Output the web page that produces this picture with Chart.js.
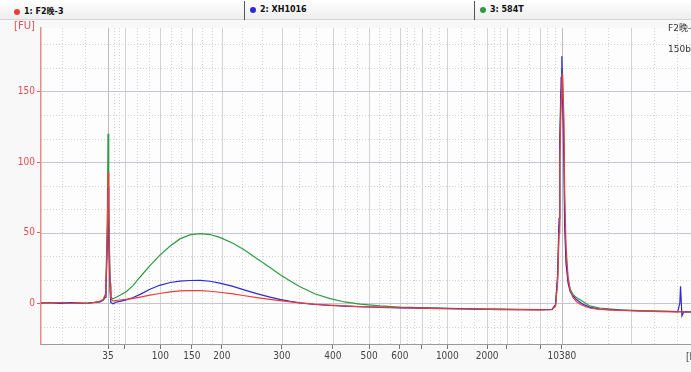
<!DOCTYPE html>
<html>
<head>
<meta charset="utf-8">
<script src="https://cdn.jsdelivr.net/npm/chart.js@4.4.1/dist/chart.umd.min.js"></script>
<style>
  html, body { margin: 0; padding: 0; }
  body {
    width: 691px; height: 372px; position: relative; overflow: hidden;
    background: #f8f8f8;
    font-family: "DejaVu Sans", "Noto Sans CJK SC", sans-serif;
  }
  #header {
    position: absolute; left: 0; top: 0; width: 691px; height: 19px;
    background: linear-gradient(#ffffff, #eeeeee);
    border-bottom: 1px solid #d4d4d4;
  }
  .entry { position: absolute; top: 5px; font-size: 8px; color: #111; white-space: nowrap; font-weight: bold; }
  .dot { display: inline-block; width: 6px; height: 6px; border-radius: 50%; margin-right: 4px; vertical-align: -1px; }
  .sep { position: absolute; top: 1px; width: 1px; height: 19px; background: #555; }
  #wrap { position: absolute; left: 0; top: 20px; width: 691px; height: 352px; }
  #fu { position: absolute; left: 14px; top: 20px; color: #e05050; font-size: 10px; }
  #note { position: absolute; left: 668px; top: 18px; font-size: 9px; color: #333; line-height: 21px; white-space: nowrap; }
</style>
</head>
<body>
<div id="header"></div>
<div id="wrap"><canvas id="chart" width="691" height="352"></canvas></div>
<div id="fu">[FU]</div>
<div id="note">F2晚-<br>150b</div>
<script>
// SAMPLES
const sampleNames = ["1: F2晚-3", "2: XH1016", "3: 584T"];
const sampleColors = ["#ee3d36", "#2a2ad8", "#2f9a45"];

// MIGRATION TIME [s]
const migrationTime = [
  33.4, 34.7, 36.1, 37.6, 39.0, 40.1, 41.1, 41.9, 42.3, 42.6,
  42.7, 42.9, 43.0, 43.1, 43.3, 43.4, 43.7, 44.1, 44.7, 45.6,
  46.6, 47.6, 49.0, 50.4, 51.9, 53.3, 54.7, 56.2, 57.6, 59.0,
  60.9, 62.6, 64.3, 66.2, 67.6, 69.1, 70.5, 72.6, 74.8, 76.9,
  79.1, 82.0, 84.8, 87.7, 90.5, 93.4, 96.3, 99.1, 102.0, 104.9,
  106.6, 107.1, 107.4, 107.6, 107.7, 107.9, 108.0, 108.1, 108.3, 108.4,
  108.6, 108.9, 109.2, 109.6, 110.1, 110.9, 112.0, 113.4, 116.3, 119.2,
  122.0, 124.6, 124.9, 125.0, 125.2, 125.5, 126.5
];

// FLUORESCENCE [FU]
const fuSample1 = [
  0.3, 0.1, 0.4, -0.1, 0.2, -0.3, 0.5, 1.2, 2.5, 5,
  12, 48, 93, 60, 12, 3, 1.5, 1.8, 2.2, 2.6,
  3.3, 4.2, 5.6, 6.8, 7.9, 8.6, 8.9, 8.8, 8.4, 7.7,
  6.5, 5.2, 3.9, 2.6, 1.7, 0.8, 0.1, -0.8, -1.5, -2.0,
  -2.5, -2.9, -3.3, -3.6, -3.9, -4.2, -4.3, -4.6, -4.7, -4.8,
  -4.6, -2, 15, 50, 100, 145, 158, 163, 130, 80,
  40, 18, 9, 4, 1, -1.5, -3.5, -4.5, -5.2, -5.5,
  -6.0, -6.2, -6.1, -6.2, -6.3, -6.2, -6.3
];
const fuSample2 = [
  0.2, 0.4, -0.2, 0.3, 0.0, -0.1, 0.4, 0.9, 2.0, 4,
  10, 40, 82, 45, 8, 0.5, -0.5, 0.6, 1.2, 2.3,
  4.0, 6.2, 9.8, 12.6, 14.6, 15.6, 16.0, 16.1, 15.5, 14.2,
  11.8, 9.2, 6.7, 4.2, 2.6, 1.2, 0.1, -1.0, -1.7, -2.2,
  -2.6, -3.0, -3.4, -3.5, -3.8, -4.0, -4.4, -4.4, -4.6, -4.7,
  -4.5, -1, 20, 60, 115, 160, 175, 150, 100, 55,
  28, 14, 8, 5, 2.5, -0.5, -3, -4.3, -5.0, -5.6,
  -5.8, -6.0, 0, 12, -9, -6.0, -6.3
];
const fuSample3 = [
  0.0, 0.2, 0.1, 0.3, -0.2, 0.1, 0.6, 1.4, 2.6, 6,
  14, 60, 120, 70, 14, 4, 3, 4, 5.5, 8.0,
  12.5, 18.5, 26.5, 33.8, 40.5, 45.5, 48.3, 49.2, 48.6, 46.6,
  42.4, 37.4, 31.6, 25.2, 20.3, 15.6, 11.6, 6.6, 3.2, 0.8,
  -0.8, -2.0, -2.8, -3.2, -3.5, -3.9, -4.0, -4.2, -4.5, -4.6,
  -4.4, -1.5, 18, 55, 108, 150, 166, 160, 115, 65,
  33, 16, 10, 6, 4, 1.5, -2, -3.5, -4.8, -5.3,
  -5.7, -6.1, -6.0, -6.1, -6.2, -6.1, -6.2
];

// LADDER (bp -> migration time)
const ladderBp = [35, 50, 100, 150, 200, 300, 400, 500, 600, 700, 1000, 2000, 3000, 7000, 10380];
const ladderTime = [43.0, 45.4, 50.5, 55.0, 59.3, 67.9, 75.2, 80.4, 84.8, 87.9, 91.6, 97.3, 100.1, 104.9, 108.0];
const labelledBp = [35, 100, 150, 200, 300, 400, 500, 600, 1000, 2000, 10380];

// Y AXIS
const fuTicks = [0, 50, 100, 150];
const fuMin = -29, fuMax = 195;
const timeMin = 33.4, timeMax = 126.5;

// HEADER ENTRIES
const header = document.getElementById("header");
const entryLeft = [14, 250, 480];
sampleNames.forEach((name, i) => {
  const d = document.createElement("div");
  d.className = "entry";
  d.style.left = entryLeft[i] + "px";
  d.innerHTML = `<span class="dot" style="background:${sampleColors[i]}"></span>${name}`;
  header.appendChild(d);
  if (i > 0) {
    const s = document.createElement("div");
    s.className = "sep";
    s.style.left = (entryLeft[i] - 6) + "px";
    header.appendChild(s);
  }
});

// GRID + BACKGROUND (behind everything)
const plotGrid = {
  id: "plotGrid",
  beforeDraw(chart) {
    const { ctx, chartArea: a, scales: { x, y } } = chart;
    ctx.save();
    ctx.fillStyle = "#fdfdfd";
    ctx.fillRect(a.left, a.top, a.right - a.left, a.bottom - a.top);

    const vline = (t, dotted, color) => {
      const px = Math.round(x.getPixelForValue(t)) + 0.5;
      if (px < a.left || px > a.right) return;
      ctx.strokeStyle = color;
      ctx.setLineDash(dotted ? [1, 2] : []);
      ctx.beginPath();
      ctx.moveTo(px, a.top);
      ctx.lineTo(px, a.bottom);
      ctx.stroke();
    };
    const hline = (v, dotted, color) => {
      const py = Math.round(y.getPixelForValue(v)) + 0.5;
      ctx.strokeStyle = color;
      ctx.setLineDash(dotted ? [1, 2] : []);
      ctx.beginPath();
      ctx.moveTo(a.left, py);
      ctx.lineTo(a.right, py);
      ctx.stroke();
    };
    ctx.lineWidth = 1;

    // dotted thirds between ladder sizes, and beyond the ends
    for (let i = 0; i < ladderTime.length - 1; i++) {
      const d = (ladderTime[i + 1] - ladderTime[i]) / 3;
      vline(ladderTime[i] + d, true, "#d2d2d2");
      vline(ladderTime[i] + 2 * d, true, "#d2d2d2");
    }
    for (let t = ladderTime[0] - 3.3; t > timeMin; t -= 3.3) vline(t, true, "#d2d2d2");
    for (let t = ladderTime[ladderTime.length - 1] + 3.3; t < timeMax; t += 3.3) {
      vline(t, Math.round((t - 108) / 3.3) % 3 !== 0, "#d2d2d2");
    }
    ladderTime.forEach((t, i) => vline(t, false, i === 0 || i === ladderTime.length - 1 ? "#bdbdbd" : "#d3d3d3"));

    // solid every 50 FU, dotted thirds between
    for (let k = -1; k <= 11; k++) {
      const v = k * 50 / 3;
      if (v <= fuMin || v >= fuMax) continue;
      if (k % 3 === 0) hline(v, false, "#c6c6d0");
      else hline(v, true, "#d2d2d2");
    }
    ctx.restore();
  },
  afterDraw(chart) {
    const { ctx, chartArea: a } = chart;
    ctx.save();
    ctx.fillStyle = "#444";
    ctx.font = "10px 'DejaVu Sans Condensed', sans-serif";
    ctx.textBaseline = "middle";
    ctx.fillText("[bp]", 686, a.bottom + 13);
    ctx.restore();
  }
};

const toPoints = vals => migrationTime.map((t, i) => ({ x: t, y: vals[i] }));

new Chart(document.getElementById("chart"), {
  type: "line",
  data: {
    datasets: [fuSample1, fuSample2, fuSample3].map((vals, i) => ({
      label: sampleNames[i],
      data: toPoints(vals),
      borderColor: sampleColors[i],
      borderWidth: 1.2,
      pointRadius: 0,
      tension: 0
    }))
  },
  options: {
    responsive: false,
    animation: false,
    layout: { padding: { top: 7, right: 0, bottom: 0, left: 0 } },
    plugins: { legend: { display: false }, tooltip: { enabled: false } },
    scales: {
      x: {
        type: "linear",
        min: timeMin,
        max: timeMax,
        afterBuildTicks: scale => { scale.ticks = ladderTime.map(t => ({ value: t })); },
        afterFit: scale => { scale.height = 28; },
        ticks: {
          autoSkip: false,
          maxRotation: 0,
          padding: 1,
          color: "#444",
          font: { family: "'DejaVu Sans Condensed', sans-serif", size: 10 },
          callback: (value, index) => {
            const bp = ladderBp[index];
            return labelledBp.includes(bp) ? String(bp) : "";
          }
        },
        grid: { drawOnChartArea: false, drawTicks: true, tickLength: 5, color: "#777" },
        border: { color: "#9a9a9a", width: 1 }
      },
      y: {
        min: fuMin,
        max: fuMax,
        afterBuildTicks: scale => { scale.ticks = fuTicks.map(v => ({ value: v })); },
        afterFit: scale => { scale.width = 41; },
        ticks: {
          padding: 2,
          color: "#e05050",
          font: { family: "'DejaVu Sans Condensed', sans-serif", size: 10 }
        },
        grid: { drawOnChartArea: false, drawTicks: true, tickLength: 4, color: "#e06060" },
        border: { color: "#ec8a8a", width: 1.5 }
      }
    }
  },
  plugins: [plotGrid]
});
</script>
</body>
</html>
